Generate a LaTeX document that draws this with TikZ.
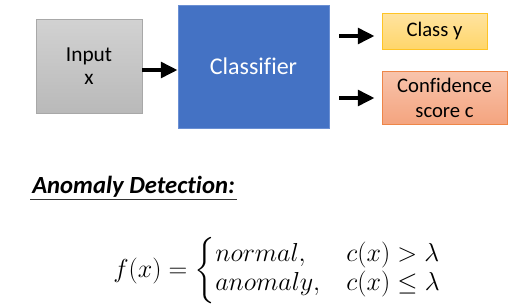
\RequirePackage{fix-cm}
\documentclass[tikz,border=0pt]{standalone}
\usepackage{amsmath}
\usepackage[no-math]{fontspec}
\setmainfont[Ligatures=NoCommon]{Carlito}
\usetikzlibrary{arrows.meta,calc}

\definecolor{inpTop}{HTML}{D2D2D2}
\definecolor{inpBot}{HTML}{B9B9B9}
\definecolor{inpLine}{HTML}{A8A8A8}
\definecolor{clfFill}{HTML}{4472C4}
\definecolor{clfLine}{HTML}{6A8FD3}
\definecolor{clsTop}{HTML}{FFE3A0}
\definecolor{clsBot}{HTML}{FFD66A}
\definecolor{clsLine}{HTML}{FFC425}
\definecolor{confTop}{HTML}{F8C4AC}
\definecolor{confBot}{HTML}{F4A47F}
\definecolor{confLine}{HTML}{EE8648}

\begin{document}
\begin{tikzpicture}[
  x=0.75pt, y=-0.75pt,
  box/.style={draw, line width=0.6pt, inner sep=0pt, align=center},
  arr/.style={-{Triangle[length=12.5pt,width=11.5pt]}, line width=3.3pt},
  uline/.style={line width=0.9pt, black!80},
]
\useasboundingbox (0,0) rectangle (530,304);

% ---- Boxes -----------------------------------------------------------------
\node[box, draw=inpLine, top color=inpTop, bottom color=inpBot,
      minimum width=79.5pt, minimum height=70.5pt,
      font=\fontsize{16}{17.5}\selectfont] (inp) at (89,66) {Input\\x};
\node[box, draw=clfLine, fill=clfFill, text=white,
      minimum width=113.25pt, minimum height=92.25pt,
      font=\fontsize{18}{21}\selectfont] (clf) at (253.5,66.5) {Classifier};
\node[box, draw=clsLine, top color=clsTop, bottom color=clsBot,
      minimum width=78.75pt, minimum height=27pt,
      font=\fontsize{15.5}{18.7}\selectfont] (cls) at (434.5,31) {Class y};
\node[box, draw=confLine, top color=confTop, bottom color=confBot,
      minimum width=93.75pt, minimum height=39.75pt,
      font=\fontsize{15.5}{18.7}\selectfont] (conf) at (444.5,97.5) {Confidence\\score c};

% ---- Arrows ----------------------------------------------------------------
\draw[arr] ($(inp.east)+(0,4)$) -- ($(clf.west)+(0,3.5)$);
\draw[arr] ($(clf.east |- cls.west)+(10,5)$) -- ($(cls.west)+(-7,5)$);
\draw[arr] ($(clf.east |- conf.west)+(10,0.5)$) -- ($(conf.west)+(-7,0.5)$);

% ---- Heading ---------------------------------------------------------------
\node[anchor=base west, inner xsep=1.5pt, inner ysep=2pt,
      font=\fontsize{18.5}{22}\selectfont\bfseries\itshape] (ad) at (30,193)
  {Anomaly Detection:};
\draw[uline] (ad.south west) -- (ad.south east);

% ---- Decision rule ---------------------------------------------------------
\node[anchor=base west, inner sep=0pt, font=\fontsize{19.5}{16.25}\selectfont]
  (rule) at (113,277)
  {$f(x)=\begin{cases}normal, & c(x)>\lambda\\[1.5pt]
                      anomaly, & c(x)\leq\lambda\end{cases}$};

\end{tikzpicture}
\end{document}
